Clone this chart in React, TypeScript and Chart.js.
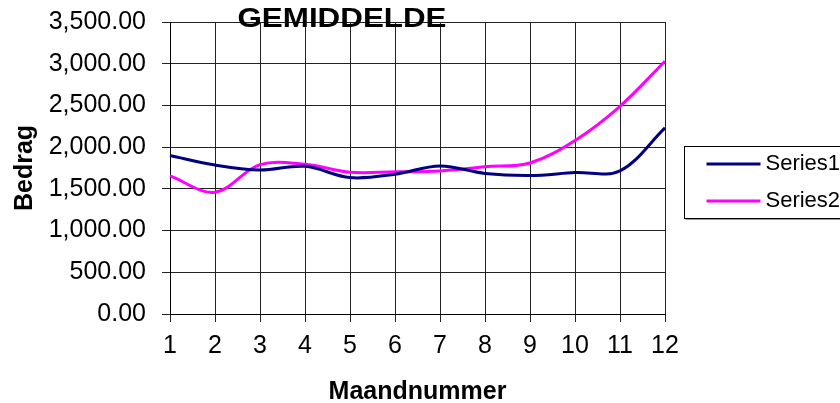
import React, { useEffect, useRef } from "react";
import { Chart, registerables } from "chart.js";

Chart.register(...registerables);

const months = ["1", "2", "3", "4", "5", "6", "7", "8", "9", "10", "11", "12"];
const series1 = [1900, 1785, 1725, 1770, 1635, 1675, 1775, 1685, 1660, 1695, 1715, 2230];
const series2 = [1655, 1460, 1790, 1795, 1700, 1705, 1715, 1765, 1810, 2080, 2490, 3030];
const seriesNames = ["Series1", "Series2"];
const seriesColors = ["#000080", "#FF00FF"];
const chartTitle = "GEMIDDELDE";
const xTitle = "Maandnummer";
const yTitle = "Bedrag";

const FONT = '"Liberation Sans", Arial, sans-serif';

const overlayPlugin = {
  id: "overlay",
  afterDraw(chart: any) {
    const ctx = chart.ctx as CanvasRenderingContext2D;
    const area = chart.chartArea;
    // title
    ctx.save();
    ctx.fillStyle = "#000";
    ctx.font = `bold 28px ${FONT}`;
    ctx.textAlign = "center";
    ctx.textBaseline = "alphabetic";
    ctx.translate(area.left + 172, 27);
    ctx.scale(1.12, 1);
    ctx.fillText(chartTitle, 0, 0);
    ctx.restore();

    // legend
    ctx.save();
    const bx = Math.round(area.right + 19) + 0.5;
    const by = 146.5;
    const bh = 72;
    ctx.strokeStyle = "#000";
    ctx.lineWidth = 1;
    ctx.strokeRect(bx, by, 840, bh);
    ctx.strokeStyle = "#999";
    ctx.beginPath();
    ctx.moveTo(bx + 1, by + bh + 1);
    ctx.lineTo(840, by + bh + 1);
    ctx.stroke();
    ctx.font = `22px ${FONT}`;
    ctx.textAlign = "left";
    ctx.textBaseline = "middle";
    seriesNames.forEach((name, i) => {
      const y = 164 + i * 37;
      ctx.strokeStyle = seriesColors[i];
      ctx.lineWidth = 3;
      ctx.beginPath();
      ctx.moveTo(bx + 22, y);
      ctx.lineTo(bx + 76, y);
      ctx.stroke();
      ctx.fillStyle = "#000";
      ctx.fillText(name, bx + 81, y);
    });
    ctx.restore();
  },
};

export default function App() {
  const ref = useRef<HTMLCanvasElement | null>(null);

  useEffect(() => {
    if (!ref.current) return;
    const chart = new Chart(ref.current, {
      type: "line",
      data: {
        labels: months,
        datasets: [
          {
            label: seriesNames[0],
            data: series1,
            borderColor: seriesColors[0],
            backgroundColor: seriesColors[0],
            borderWidth: 3,
            pointRadius: 0,
            tension: 0.35,
            fill: false,
          },
          {
            label: seriesNames[1],
            data: series2,
            borderColor: seriesColors[1],
            backgroundColor: seriesColors[1],
            borderWidth: 3,
            pointRadius: 0,
            tension: 0.35,
            fill: false,
          },
        ],
      },
      options: {
        responsive: false,
        devicePixelRatio: 1,
        animation: false,
        layout: { padding: { top: 22, right: 175, left: 0, bottom: 0 } },
        plugins: {
          legend: { display: false },
          title: { display: false },
          tooltip: { enabled: false },
        },
        scales: {
          x: {
            type: "category",
            offset: false,
            afterFit: (scale: any) => {
              scale.height = 89;
              scale.paddingLeft = 0;
              scale.paddingRight = 0;
            },
            grid: {
              color: "#222",
              lineWidth: 1,
              drawTicks: true,
              tickLength: 8,
              offset: false,
            },
            border: { display: true, color: "#000", width: 1 },
            ticks: {
              color: "#000",
              font: { family: FONT, size: 25 },
              padding: 9,
              maxRotation: 0,
              autoSkip: false,
            },
            title: {
              display: true,
              text: xTitle,
              color: "#000",
              font: { family: FONT, size: 25, weight: "bold", lineHeight: 0.85 },
              padding: { top: 0, bottom: 0 },
            },
          },
          y: {
            min: 0,
            max: 3500,
            afterFit: (scale: any) => {
              scale.width = 170;
              scale.paddingTop = 0;
              scale.paddingBottom = 0;
            },
            grid: {
              color: "#222",
              lineWidth: 1,
              drawTicks: true,
              tickLength: 8,
            },
            border: { display: true, color: "#000", width: 1 },
            ticks: {
              stepSize: 500,
              color: "#000",
              font: { family: FONT, size: 25 },
              padding: 16,
              callback: (v: any) =>
                Number(v).toLocaleString("en-US", {
                  minimumFractionDigits: 2,
                  maximumFractionDigits: 2,
                }),
            },
            title: {
              display: true,
              text: yTitle,
              color: "#000",
              font: { family: FONT, size: 25, weight: "bold", lineHeight: 1 },
              padding: { top: 13, bottom: 0 },
            },
          },
        },
      },
      plugins: [overlayPlugin],
    });
    return () => chart.destroy();
  }, []);

  return (
    <div style={{ position: "fixed", left: 0, top: 0, width: 840, height: 403, background: "#fff" }}>
      <canvas ref={ref} width={840} height={403} style={{ display: "block", width: 840, height: 403 }} />
    </div>
  );
}
